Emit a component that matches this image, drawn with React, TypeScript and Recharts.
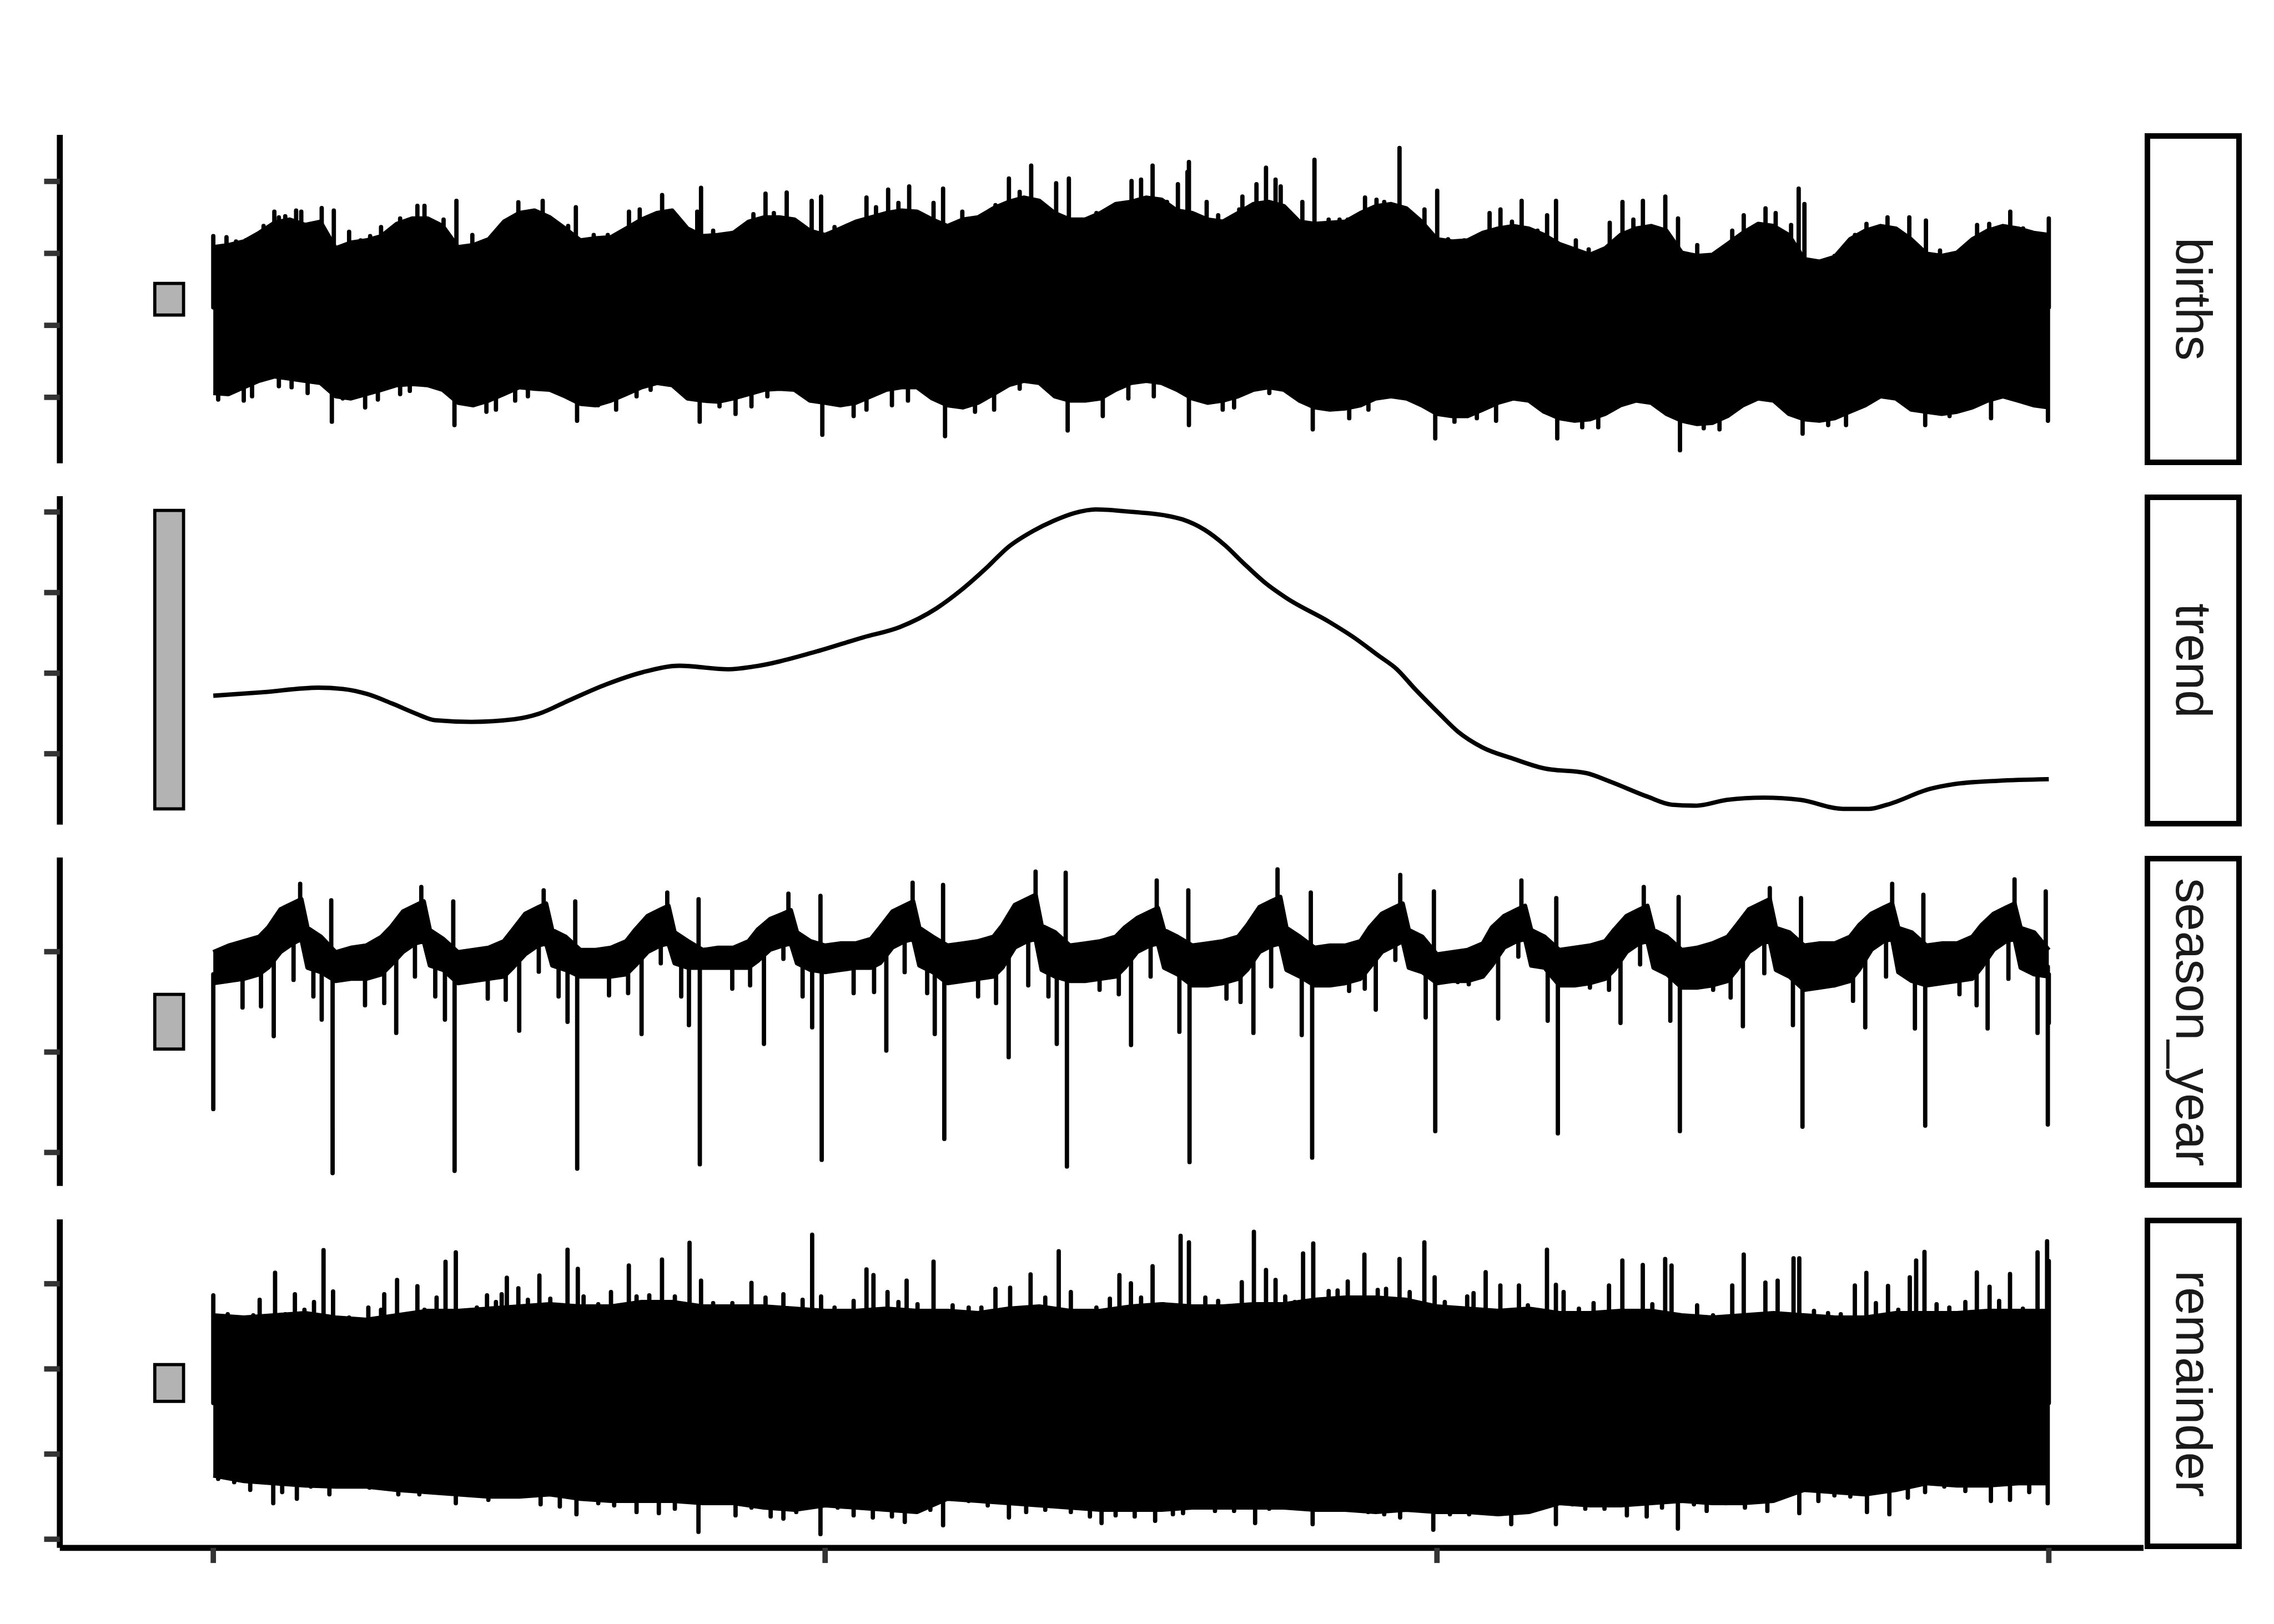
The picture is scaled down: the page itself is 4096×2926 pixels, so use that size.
import React from 'react';
import { ComposedChart, Area, Line, XAxis, YAxis, ReferenceArea } from 'recharts';

// everything below is measured on the 4200x3000 reference, drawn at 0.975
const S = 0.975;
const W = 4096;
const H = 2926;

// x axis in decimal years
const xDomain: [number, number] = [1998.746, 2015.774];
const xTicks = [2000, 2005, 2010, 2015];
const barX: [number, number] = [1999.522, 1999.757];

// births: dense upper / lower edge, every eighth of a year 2000.0 .. 2015.0
const birthsTop = [
  12170, 12230, 12330, 12570, 12850, 12940, 12790, 12880,
  12140, 12300, 12360, 12480, 12820, 12970, 12970, 12760,
  12170, 12230, 12390, 12880, 13120, 13190, 13000, 12690,
  12360, 12420, 12450, 12690, 12940, 13120, 13190, 12690,
  12480, 12510, 12570, 12880, 13000, 13000, 12940, 12630,
  12510, 12690, 12880, 13000, 13120, 13190, 13160, 12940,
  12760, 12940, 13000, 13250, 13430, 13550, 13460, 13120,
  12940, 12940, 13120, 13370, 13430, 13550, 13490, 13190,
  13120, 12940, 12880, 13120, 13370, 13430, 13310, 12880,
  12820, 12850, 12880, 13120, 13310, 13370, 13250, 12880,
  12390, 12330, 12360, 12570, 12690, 12760, 12690, 12510,
  12260, 12110, 11960, 12140, 12510, 12690, 12760, 12630,
  12020, 11930, 11960, 12260, 12570, 12820, 12760, 12510,
  11840, 11770, 11900, 12390, 12630, 12760, 12690, 12390,
  11990, 11930, 12020, 12390, 12630, 12760, 12690, 12570,
  12510,
];
const birthsLow = [
  8120, 8090, 8280, 8460, 8580, 8520, 8460, 8400,
  8030, 7970, 8090, 8210, 8340, 8370, 8340, 8210,
  7850, 7780, 7910, 8090, 8280, 8240, 8210, 8030,
  7820, 7780, 7910, 8090, 8280, 8400, 8340, 7970,
  7910, 7880, 7970, 8090, 8210, 8240, 8210, 7910,
  7850, 7780, 7850, 8030, 8210, 8280, 8280, 7970,
  7780, 7720, 7850, 8090, 8340, 8460, 8400, 8030,
  7910, 7910, 7970, 8210, 8400, 8460, 8400, 8210,
  7970, 7850, 7910, 8030, 8210, 8280, 8210, 7910,
  7720, 7660, 7690, 7780, 7970, 8030, 7970, 7780,
  7540, 7480, 7480, 7660, 7850, 7970, 7910, 7600,
  7420, 7350, 7390, 7540, 7780, 7910, 7850, 7540,
  7350, 7260, 7290, 7480, 7780, 7970, 7910, 7540,
  7390, 7350, 7420, 7600, 7780, 8030, 7970, 7660,
  7600, 7540, 7600, 7720, 7910, 8030, 7910, 7780,
  7720,
];
// single days sticking out of the band [year, births]
const birthsUp = [
  [2000.0, 12480], [2000.108, 12450], [2000.186, 12330], [2000.265, 12360], [2000.327, 12420],
  [2000.411, 12760], [2000.499, 13160], [2000.536, 13000], [2000.588, 13030], [2000.64, 12790],
  [2000.677, 13190], [2000.719, 13160], [2000.797, 12630], [2000.886, 13260], [2000.985, 13190],
  [2001.11, 12600], [2001.204, 12360], [2001.282, 12480], [2001.371, 12730], [2001.527, 12970],
  [2001.668, 13320], [2001.726, 13320], [2001.882, 12940], [2001.987, 13460],
  [2002.117, 12510], [2002.232, 12360], [2002.363, 12570], [2002.4, 12820], [2002.493, 13420],
  [2002.519, 13120], [2002.624, 13120], [2002.692, 13460], [2002.796, 12630], [2002.9, 12760],
  [2002.963, 13280],
  [2003.109, 12510], [2003.224, 12510], [2003.344, 12600], [2003.397, 13160], [2003.485, 13220],
  [2003.668, 13620], [2003.746, 13090], [2003.824, 12790], [2003.955, 13160], [2003.986, 13820],
  [2004.085, 12630], [2004.242, 12570], [2004.414, 13090], [2004.513, 13660], [2004.581, 13120],
  [2004.686, 13690], [2004.89, 13460], [2004.967, 13580],
  [2005.077, 12730], [2005.207, 12760], [2005.338, 13550], [2005.416, 13280], [2005.515, 13770],
  [2005.599, 13400], [2005.687, 13860], [2005.886, 13400], [2005.964, 13800],
  [2006.121, 13160], [2006.278, 12880], [2006.392, 13340], [2006.502, 14080], [2006.59, 13710],
  [2006.684, 14440], [2006.888, 13950], [2006.992, 14080],
  [2007.113, 12880], [2007.217, 13120], [2007.347, 13250], [2007.504, 14010], [2007.582, 14050],
  [2007.676, 14440], [2007.794, 13430], [2007.883, 13920], [2007.961, 14260], [2007.973, 14540],
  [2008.118, 13430], [2008.212, 13060], [2008.384, 13220], [2008.41, 13580], [2008.447, 13250],
  [2008.525, 13920], [2008.603, 14380], [2008.681, 14050], [2008.723, 13860], [2008.9, 13430],
  [2008.999, 14600],
  [2009.115, 12940], [2009.204, 12940], [2009.271, 12940], [2009.412, 13550], [2009.506, 13490],
  [2009.569, 13430], [2009.694, 14930], [2009.898, 13220],
  [2010.002, 13740], [2010.091, 12390], [2010.222, 12360], [2010.43, 13120], [2010.519, 13220],
  [2010.613, 12880], [2010.692, 13460], [2010.822, 12630], [2010.9, 13060], [2010.973, 13460],
  [2011.135, 12360], [2011.24, 12110], [2011.412, 12850], [2011.516, 13430], [2011.605, 12940],
  [2011.683, 13460], [2011.866, 13580], [2011.97, 12970],
  [2012.127, 12230], [2012.231, 11930], [2012.413, 12630], [2012.507, 13060], [2012.685, 13250],
  [2012.768, 13120], [2012.894, 12790], [2012.956, 13800],
  [2013.003, 13370], [2013.249, 11930], [2013.416, 12510], [2013.51, 12820], [2013.682, 13000],
  [2013.771, 12630], [2013.86, 13000], [2013.996, 12910],
  [2014.111, 12080], [2014.242, 11930], [2014.414, 12790], [2014.513, 12820], [2014.685, 13160],
  [2014.79, 12690], [2015.0, 12970],
];
const birthsDown = [
  [2000.04, 7940], [2000.249, 7910], [2000.317, 8030], [2000.536, 8310], [2000.64, 8280],
  [2000.771, 8120], [2000.969, 7320],
  [2001.058, 7970], [2001.241, 7720], [2001.345, 7940], [2001.527, 8090], [2001.606, 8180],
  [2001.971, 7230],
  [2002.232, 7600], [2002.31, 7660], [2002.467, 7910], [2002.571, 8030], [2002.973, 7350],
  [2003.145, 7780], [2003.292, 7660], [2003.459, 8030], [2003.574, 8210], [2003.975, 7320],
  [2004.137, 7750], [2004.268, 7540], [2004.398, 7750], [2004.528, 8030], [2004.977, 6960],
  [2005.233, 7480], [2005.338, 7660], [2005.546, 7780], [2005.677, 7910], [2005.98, 6920],
  [2006.225, 7600], [2006.381, 7660], [2006.59, 8240], [2006.982, 7080],
  [2007.269, 7480], [2007.478, 7970], [2007.686, 8030], [2007.973, 7230],
  [2008.249, 7660], [2008.342, 7720], [2008.63, 8120], [2008.985, 7110],
  [2009.283, 7420], [2009.44, 7660], [2009.986, 6860],
  [2010.143, 7320], [2010.326, 7420], [2010.483, 7350], [2010.983, 6860],
  [2011.187, 7170], [2011.318, 7170], [2011.986, 6530],
  [2012.18, 7140], [2012.309, 7110], [2012.988, 6990],
  [2013.197, 7230], [2013.343, 7230], [2013.99, 7230],
  [2014.189, 7480], [2014.528, 7420], [2014.993, 7350],
];
const birthsCore = 10500;

// trend
const trendT = [
  2000.0, 2000.41, 2000.86, 2001.06, 2001.26, 2001.46, 2001.66, 2001.81, 2002.11, 2002.46,
  2002.66, 2002.91, 2003.21, 2003.51, 2003.81, 2004.21, 2004.41, 2004.91, 2005.31, 2005.61,
  2005.91, 2006.11, 2006.32, 2006.49, 2006.7, 2006.87, 2007.04, 2007.21, 2007.52, 2007.77,
  2007.92, 2008.1, 2008.27, 2008.42, 2008.6, 2008.77, 2009.12, 2009.32, 2009.52, 2009.67,
  2009.82, 2010.02, 2010.17, 2010.37, 2010.62, 2010.87, 2011.22, 2011.42, 2011.72, 2011.92,
  2012.12, 2012.37, 2012.67, 2012.97, 2013.32, 2013.53, 2013.68, 2014.03, 2014.23, 2014.58,
  2015.0,
];
const trendV = [
  10930, 10941, 10955, 10951, 10935, 10906, 10874, 10854, 10849, 10857,
  10874, 10916, 10965, 11003, 11023, 11012, 11020, 11065, 11111, 11143,
  11201, 11257, 11327, 11389, 11441, 11473, 11497, 11508, 11500, 11490,
  11477, 11445, 11396, 11341, 11279, 11233, 11159, 11111, 11055, 11013,
  10951, 10874, 10819, 10770, 10735, 10705, 10690, 10663, 10617, 10592,
  10589, 10607, 10614, 10607, 10579, 10579, 10592, 10641, 10656, 10666,
  10671,
];

// season_year: band of the noisy line, ten readings per year at these points of the year
const seasonOffsets = [0, 0.125, 0.25, 0.375, 0.45, 0.55, 0.65, 0.72, 0.77, 0.88];
const seasonHi = [
  -11, 121, 209, 297, 485, 845, 965, 1045, 473, 297,
  -11, 77, 121, 297, 485, 800, 920, 1001, 430, 253,
  -11, 33, 77, 209, 441, 757, 877, 957, 430, 297,
  33, 33, 77, 209, 441, 713, 833, 913, 385, 209,
  33, 77, 77, 209, 441, 650, 750, 825, 385, 209,
  121, 165, 165, 253, 485, 800, 920, 1001, 473, 297,
  121, 165, 209, 297, 529, 930, 1050, 1133, 517, 385,
  121, 165, 209, 297, 485, 670, 790, 869, 430, 297,
  121, 165, 209, 297, 529, 890, 1010, 1089, 473, 297,
  77, 121, 121, 209, 485, 757, 877, 957, 430, 297,
  -55, -11, 33, 165, 485, 713, 833, 913, 430, 297,
  33, 77, 121, 209, 441, 713, 833, 913, 430, 297,
  33, 77, 165, 297, 529, 845, 965, 1045, 473, 385,
  121, 165, 165, 297, 529, 757, 877, 957, 473, 385,
  121, 165, 165, 297, 529, 757, 877, 957, 473, 385,
  33,
];
const seasonLo = [
  -627, -583, -539, -451, -313, -5, 165, 253, -319, -407,
  -583, -539, -539, -451, -269, -5, 165, 209, -275, -363,
  -627, -583, -539, -495, -313, -49, 121, 165, -275, -363,
  -495, -495, -495, -451, -269, -5, 121, 165, -231, -319,
  -319, -319, -319, -319, -181, 39, 121, 165, -231, -363,
  -407, -363, -319, -319, -225, 83, 209, 253, -275, -407,
  -627, -583, -539, -495, -313, 83, 209, 253, -363, -495,
  -583, -583, -539, -495, -313, -5, 121, 165, -319, -451,
  -671, -671, -627, -539, -357, -5, 121, 165, -363, -495,
  -671, -671, -627, -539, -313, -5, 121, 209, -319, -407,
  -627, -583, -583, -495, -269, 83, 209, 253, -275, -319,
  -671, -671, -627, -539, -357, -5, 165, 209, -319, -451,
  -715, -715, -671, -583, -357, -5, 165, 209, -363, -495,
  -759, -715, -671, -583, -357, 39, 209, 253, -407, -583,
  -671, -627, -583, -539, -313, 39, 209, 253, -319, -451,
  -495,
];
// holiday days of season_year [year, value]; each list leaves the band at its own base
const seasonEnds = [[2000.0, -3135], [2015.0, -1419]];
const seasonChristmas = [
  [2000.975, -4411], [2001.972, -4367], [2002.974, -4323], [2003.976, -4235], [2004.972, -4147],
  [2005.974, -3729], [2006.976, -4279], [2007.978, -4191], [2008.98, -4103], [2009.986, -3575],
  [2010.988, -3619], [2011.985, -3575], [2012.987, -3487], [2013.99, -3465], [2014.992, -3443],
];
const seasonJuly = [
  [2000.494, -1683], [2001.495, -1617], [2002.5, -1573], [2003.5, -1639], [2004.5, -1837],
  [2005.5, -1969], [2006.5, -2101], [2007.5, -1859], [2008.5, -1617], [2009.5, -1155],
  [2010.5, -1331], [2011.5, -1419], [2012.5, -1485], [2013.5, -1507], [2014.5, -1529],
];
const seasonNovember = [
  [2000.886, -1353], [2001.893, -1353], [2002.895, -1397], [2003.887, -1463], [2004.894, -1507],
  [2005.896, -1639], [2006.893, -1837], [2007.895, -1595], [2008.895, -1661], [2009.908, -1309],
  [2010.905, -1375], [2011.907, -1375], [2012.909, -1463], [2013.906, -1529], [2014.908, -1617],
  [2000.818, -891], [2001.814, -891], [2002.822, -891], [2003.824, -891], [2004.816, -891],
  [2005.834, -825], [2006.825, -891],
];
const seasonYearEnd = [
  [2000.964, 1023], [2001.961, 1001], [2002.958, 1001], [2003.966, 1045], [2004.962, 1111],
  [2005.964, 1331], [2006.966, 1573], [2007.968, 1221], [2008.969, 1177], [2009.975, 1199],
  [2010.975, 1067], [2011.975, 1089], [2012.975, 1067], [2013.975, 1133], [2014.975, 1199],
];
const seasonSeptember = [
  [2000.71, 1353], [2001.7, 1287], [2002.7, 1221], [2003.71, 1177], [2004.7, 1155],
  [2005.715, 1375], [2006.72, 1595], [2007.71, 1419], [2008.697, 1639], [2009.7, 1529],
  [2010.69, 1419], [2011.69, 1287], [2012.72, 1265], [2013.72, 1353], [2014.72, 1441],
];
const seasonLabour = [
  [2000.656, -561], [2001.648, -495], [2002.66, -398], [2003.657, -231], [2004.659, -143],
  [2005.65, -407], [2006.66, -671], [2007.66, -495], [2008.645, -693], [2009.66, -165],
  [2010.665, -99], [2011.66, -253], [2012.675, -429], [2013.67, -495], [2014.67, -539],
];
const seasonSpring = [
  [2000.239, -1111], [2000.39, -1089], [2001.24, -1067], [2001.397, -1023], [2002.243, -935],
  [2002.39, -957], [2003.234, -869], [2003.39, -825], [2004.241, -737], [2004.387, -671],
  [2005.233, -825], [2005.4, -803], [2006.25, -891], [2006.397, -1023], [2007.243, -759],
  [2007.4, -847], [2008.28, -935], [2008.395, -1001], [2009.282, -781], [2009.41, -737],
  [2010.17, -605], [2010.26, -649], [2011.25, -715], [2011.406, -759], [2012.257, -759],
  [2012.4, -913], [2013.3, -627], [2013.4, -979], [2014.27, -847], [2014.41, -1067],
];

// remainder: dense edges every quarter year
const remTop = [
  1259, 1207, 1259, 1311, 1207, 1155, 1259, 1363, 1363, 1415, 1466, 1518,
  1466, 1466, 1570, 1570, 1466, 1466, 1466, 1415, 1363, 1363, 1415, 1363,
  1363, 1311, 1415, 1466, 1363, 1363, 1466, 1518, 1466, 1466, 1518, 1518,
  1622, 1674, 1674, 1622, 1466, 1415, 1363, 1415, 1311, 1311, 1363, 1363,
  1259, 1207, 1259, 1311, 1259, 1207, 1207, 1311, 1311, 1311, 1363, 1363,
  1363,
];
const remLow = [
  -2504, -2633, -2685, -2737, -2763, -2763, -2841, -2893, -2945, -2997, -2997, -2945,
  -3049, -3100, -3100, -3100, -3152, -3152, -3256, -3308, -3204, -3256, -3308, -3360,
  -3049, -3100, -3152, -3204, -3256, -3308, -3308, -3308, -3256, -3256, -3256, -3256,
  -3308, -3308, -3360, -3308, -3360, -3360, -3412, -3360, -3152, -3204, -3204, -3152,
  -3100, -3152, -3152, -3100, -2841, -2893, -2945, -2841, -2685, -2737, -2737, -2685,
  -2685,
];
const remUp = [
  [2000.0, 1726], [2000.118, 1285], [2000.327, 1259], [2000.379, 1622], [2000.505, 2260],
  [2000.588, 1285], [2000.667, 1752], [2000.745, 1389], [2000.823, 1570], [2000.901, 2790],
  [2000.979, 1819], [2001.11, 1207], [2001.267, 1441], [2001.371, 1389], [2001.397, 1752],
  [2001.502, 2089], [2001.606, 1285], [2001.668, 1944], [2001.726, 1389], [2001.825, 1674],
  [2001.898, 2515], [2001.982, 2738], [2002.049, 1363], [2002.154, 1441], [2002.237, 1726],
  [2002.31, 1570], [2002.357, 1752], [2002.399, 2141], [2002.493, 1892], [2002.571, 1622],
  [2002.665, 2193], [2002.754, 1648], [2002.895, 2800], [2002.979, 2349], [2003.026, 1700],
  [2003.146, 1518], [2003.25, 1804], [2003.396, 2427], [2003.459, 1700], [2003.563, 1726],
  [2003.667, 2567], [2003.772, 1700], [2003.892, 2961], [2003.986, 2074], [2004.085, 1544],
  [2004.242, 1544], [2004.398, 2022], [2004.513, 1674], [2004.659, 1752], [2004.816, 1622],
  [2004.894, 3153], [2004.967, 1700], [2005.077, 1441], [2005.233, 1596], [2005.338, 2338],
  [2005.395, 2203], [2005.51, 1804], [2005.599, 1570], [2005.666, 2074], [2005.755, 1518],
  [2005.886, 2520], [2006.042, 1492], [2006.173, 1441], [2006.277, 1441], [2006.392, 1882],
  [2006.512, 1908], [2006.679, 2219], [2006.799, 1674], [2006.909, 2764], [2007.008, 1804],
  [2007.113, 1363], [2007.217, 1441], [2007.327, 1648], [2007.405, 2203], [2007.499, 2011],
  [2007.582, 1674], [2007.676, 2411], [2007.765, 1518], [2007.82, 1467], [2007.905, 3127],
  [2007.973, 2971], [2008.107, 1674], [2008.212, 1596], [2008.29, 1441], [2008.405, 2037],
  [2008.504, 3221], [2008.603, 2323], [2008.681, 2089], [2008.76, 1700], [2008.838, 1570],
  [2008.906, 2712], [2008.989, 2946], [2009.115, 1830], [2009.188, 1840], [2009.271, 2053],
  [2009.407, 2686], [2009.516, 1856], [2009.584, 1882], [2009.694, 2582], [2009.777, 1804],
  [2009.897, 2972], [2009.981, 2152], [2010.064, 1570], [2010.247, 1700], [2010.299, 1778],
  [2010.398, 2271], [2010.518, 1960], [2010.67, 1960], [2010.743, 1492], [2010.899, 2800],
  [2010.972, 1975], [2011.035, 1804], [2011.16, 1415], [2011.28, 1544], [2011.406, 1960],
  [2011.515, 2546], [2011.682, 2442], [2011.76, 1518], [2011.865, 2582], [2011.917, 2427],
  [2012.126, 1492], [2012.256, 1259], [2012.413, 1960], [2012.507, 2686], [2012.684, 2027],
  [2012.784, 2074], [2012.914, 2598], [2012.961, 2598], [2013.081, 1363], [2013.196, 1311],
  [2013.3, 1285], [2013.415, 1960], [2013.509, 2255], [2013.587, 1544], [2013.686, 1949],
  [2013.77, 1389], [2013.864, 2152], [2013.916, 2546], [2013.984, 2748], [2014.083, 1518],
  [2014.187, 1441], [2014.318, 1570], [2014.412, 2266], [2014.516, 1928], [2014.594, 1596],
  [2014.683, 2229], [2014.788, 1415], [2014.908, 2738], [2014.986, 2998], [2015.0, 2531],
];
const remDown = [
  [2000.04, -2582], [2000.171, -2660], [2000.302, -2841], [2000.49, -3153], [2000.563, -2893],
  [2000.683, -3049], [2000.797, -2763], [2000.949, -2945], [2001.11, -2737], [2001.277, -2789],
  [2001.397, -2686], [2001.512, -2945], [2001.684, -2945], [2001.788, -2763], [2001.982, -3153],
  [2002.102, -2841], [2002.248, -3075], [2002.389, -2893], [2002.545, -2945], [2002.675, -3179],
  [2002.832, -3230], [2002.968, -3412], [2003.146, -3153], [2003.276, -3205], [2003.459, -3360],
  [2003.641, -3386], [2003.772, -3282], [2003.965, -3827], [2004.085, -3101], [2004.268, -3438],
  [2004.398, -3256], [2004.555, -3464], [2004.659, -3516], [2004.764, -3360], [2004.962, -3879],
  [2005.103, -3256], [2005.233, -3438], [2005.39, -3490], [2005.546, -3464], [2005.651, -3594],
  [2005.86, -3308], [2005.964, -3672], [2006.173, -3101], [2006.329, -3205], [2006.502, -3490],
  [2006.643, -3360], [2006.799, -3308], [2007.008, -3360], [2007.164, -3464], [2007.259, -3620],
  [2007.374, -3438], [2007.53, -3464], [2007.697, -3568], [2007.842, -3412], [2007.925, -3386],
  [2008.081, -3101], [2008.186, -3334], [2008.342, -3334], [2008.514, -3620], [2008.629, -3282],
  [2008.812, -3230], [2008.984, -3646], [2009.125, -3256], [2009.281, -3256], [2009.438, -3360],
  [2009.569, -3412], [2009.699, -3490], [2009.83, -3308], [2009.97, -3775], [2010.106, -3412],
  [2010.263, -3412], [2010.43, -3308], [2010.607, -3646], [2010.743, -3360], [2010.972, -3646],
  [2011.108, -3179], [2011.212, -3282], [2011.369, -3282], [2011.552, -3438], [2011.714, -3464],
  [2011.839, -3256], [2011.969, -3749], [2012.1, -3179], [2012.204, -3334], [2012.361, -3153],
  [2012.517, -3256], [2012.7, -3334], [2012.961, -3386], [2013.117, -3101], [2013.248, -2971],
  [2013.378, -2997], [2013.514, -3360], [2013.697, -3412], [2013.848, -3023], [2013.989, -2893],
  [2014.146, -2763], [2014.318, -2867], [2014.527, -3101], [2014.683, -3075], [2014.84, -2893],
  [2014.991, -3153],
];
const remCore = -800;

const labels = ['births', 'trend', 'season_year', 'remainder'];

// ---- layout (reference pixels) ----
const PANEL_TOPS = [249, 917, 1585, 2253];
const PANEL_H = 607;
const PLOT_LEFT = 110.5;
const PLOT_RIGHT = 3960;
const LINE_W = 8 * S;
const AXIS_W = 11 * S;
const TICK_W = 10 * S;

const panels = [
  { domain: [6165, 15293], ticks: [8000, 10000, 12000, 14000], bar: [10286, 11165] },
  { domain: [10530, 11549], ticks: [10750, 11000, 11250, 11500], bar: [10579, 11505] },
  { domain: [-4668, 1876], ticks: [-4000, -2000, 0], bar: [-1941, -852] },
  { domain: [-4203, 3512], ticks: [-4000, -2000, 0, 2000], bar: [-763, 102] },
];

const eighths = (vals: number[]) => vals.map((_, i) => 2000 + i / 8);
const quarters = (vals: number[]) => vals.map((_, i) => 2000 + i / 4);
const seasonTimes = seasonHi.map((_, i) =>
  2000 + Math.floor(i / seasonOffsets.length) + seasonOffsets[i % seasonOffsets.length]);

const bandRows = (ts: number[], lo: number[], hi: number[]) =>
  ts.map((t, i) => ({ t, band: [lo[i], hi[i]] }));

const spikeRows = (list: number[][], base: number) => {
  const rows: { t: number; v: number | null }[] = [];
  list.forEach(([t, tip]) => {
    rows.push({ t, v: base }, { t, v: tip }, { t, v: null });
  });
  return rows;
};

const birthsBand = bandRows(eighths(birthsTop), birthsLow, birthsTop);
const birthsSpikes = [...spikeRows(birthsUp, birthsCore), ...spikeRows(birthsDown, birthsCore)];
const trendRows = trendT.map((t, i) => ({ t, v: trendV[i] }));
const seasonBand = bandRows(seasonTimes, seasonLo, seasonHi);
const seasonSpikes = [
  ...spikeRows(seasonEnds, -450),
  ...spikeRows(seasonChristmas, -300),
  ...spikeRows(seasonJuly, 300),
  ...spikeRows(seasonNovember, 0),
  ...spikeRows(seasonYearEnd, 0),
  ...spikeRows(seasonSeptember, 800),
  ...spikeRows(seasonLabour, 700),
  ...spikeRows(seasonSpring, -300),
];
const remBand = bandRows(quarters(remTop), remLow, remTop);
const remSpikes = [...spikeRows(remUp, remCore), ...spikeRows(remDown, remCore)];

const AXIS_BOX = 40;
const NoLabel = () => null;

function Panel({ index, children }: { index: number; children: React.ReactNode }) {
  const p = panels[index];
  const isBottom = index === panels.length - 1;
  const padTop = 40;
  const padBot = isBottom ? 90 : 40;
  const chartH = (padTop + PANEL_H + padBot) * S;
  return (
    <div style={{ position: 'absolute', left: 0, top: (PANEL_TOPS[index] - padTop) * S }}>
      <ComposedChart
        width={W}
        height={chartH}
        margin={{
          top: padTop * S,
          right: W - PLOT_RIGHT * S,
          bottom: isBottom ? padBot * S - AXIS_BOX : padBot * S,
          left: PLOT_LEFT * S - AXIS_BOX,
        }}
      >
        <XAxis
          type="number"
          dataKey="t"
          domain={xDomain}
          allowDataOverflow
          ticks={xTicks}
          interval={0}
          hide={!isBottom}
          height={AXIS_BOX}
          stroke="#000000"
          strokeWidth={AXIS_W}
          tick={NoLabel}
          tickSize={28 * S}
          tickLine={{ stroke: '#333333', strokeWidth: TICK_W }}
          axisLine={{ stroke: '#000000', strokeWidth: AXIS_W }}
        />
        <YAxis
          type="number"
          domain={p.domain as [number, number]}
          allowDataOverflow
          ticks={p.ticks}
          interval={0}
          width={AXIS_BOX}
          stroke="#000000"
          strokeWidth={AXIS_W}
          tick={NoLabel}
          tickSize={29 * S}
          tickLine={{ stroke: '#333333', strokeWidth: TICK_W }}
          axisLine={{ stroke: '#000000', strokeWidth: AXIS_W }}
        />
        <ReferenceArea
          x1={barX[0]}
          x2={barX[1]}
          y1={p.bar[0]}
          y2={p.bar[1]}
          fill="#b3b3b3"
          fillOpacity={1}
          stroke="#000000"
          strokeWidth={5.9 * S}
        />
        {children}
      </ComposedChart>
    </div>
  );
}

const bandProps = {
  type: 'linear' as const,
  dataKey: 'band',
  stroke: '#000000',
  strokeWidth: LINE_W,
  strokeLinejoin: 'round' as const,
  fill: '#000000',
  fillOpacity: 1,
  dot: false,
  activeDot: false,
  isAnimationActive: false,
};

const spikeProps = {
  type: 'linear' as const,
  dataKey: 'v',
  stroke: '#000000',
  strokeWidth: LINE_W,
  strokeLinecap: 'round' as const,
  dot: false,
  activeDot: false,
  connectNulls: false,
  isAnimationActive: false,
};

export default function App() {
  return (
    <div style={{ position: 'absolute', left: 0, top: 0, width: W, height: H, background: '#ffffff', overflow: 'hidden' }}>
      <Panel index={0}>
        <Area data={birthsBand} {...bandProps} />
        <Line data={birthsSpikes} {...spikeProps} />
      </Panel>
      <Panel index={1}>
        <Line
          data={trendRows}
          dataKey="v"
          type="monotone"
          stroke="#000000"
          strokeWidth={LINE_W}
          dot={false}
          activeDot={false}
          isAnimationActive={false}
        />
      </Panel>
      <Panel index={2}>
        <Area data={seasonBand} {...bandProps} />
        <Line data={seasonSpikes} {...spikeProps} />
      </Panel>
      <Panel index={3}>
        <Area data={remBand} {...bandProps} />
        <Line data={remSpikes} {...spikeProps} />
      </Panel>

      {labels.map((label, i) => (
        <div
          key={label}
          style={{
            position: 'absolute',
            left: 3962 * S,
            top: (PANEL_TOPS[i] - 3) * S,
            width: 180 * S,
            height: (PANEL_H + 6) * S,
            boxSizing: 'border-box',
            border: `${11 * S}px solid #000000`,
            display: 'flex',
            alignItems: 'center',
            justifyContent: 'center',
          }}
        >
          <span
            style={{
              writingMode: 'vertical-rl',
              fontFamily: '"Liberation Sans", Arial, Helvetica, sans-serif',
              fontSize: 93 * S,
              lineHeight: 1,
              color: '#1a1a1a',
              whiteSpace: 'nowrap',
            }}
          >
            {label}
          </span>
        </div>
      ))}
    </div>
  );
}
